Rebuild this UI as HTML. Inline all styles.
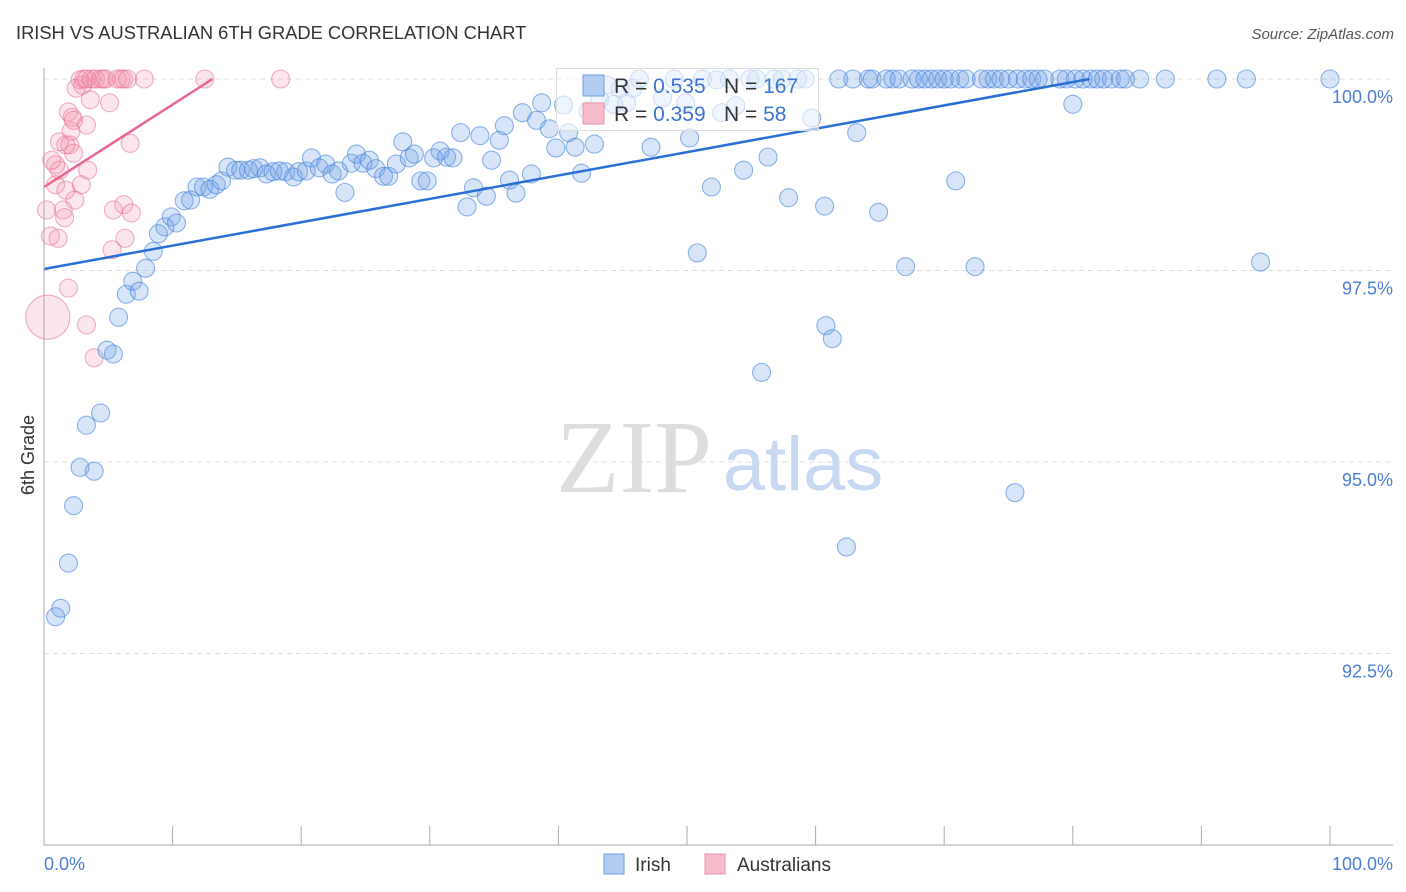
<!DOCTYPE html>
<html><head><meta charset="utf-8"><style>
body{margin:0;background:#fff;font-family:"Liberation Sans",sans-serif;}
svg{display:block}
</style></head><body>
<svg id="c" width="1406" height="892">
<text x="16" y="39" font-size="18.3" fill="#333">IRISH VS AUSTRALIAN 6TH GRADE CORRELATION CHART</text>
<text x="1394" y="39" font-size="15" fill="#555" font-style="italic" text-anchor="end">Source: ZipAtlas.com</text>
<g>
<text x="634" y="492" font-size="104" fill="#ddd" font-family="Liberation Serif,serif" text-anchor="middle">ZIP</text>
<text x="803" y="490" font-size="76" fill="#c7d8f0" text-anchor="middle">atlas</text>
</g>
<g id="grid"></g>
<g id="pts"></g>
<g id="lines"></g>
<line x1="44" y1="68" x2="44" y2="845" stroke="#aaa"/>
<line x1="44" y1="845" x2="1393" y2="845" stroke="#aaa"/>
<g id="xt"></g>
<text x="44" y="870" font-size="18" fill="#4a7fd6">0.0%</text>
<text x="1393" y="870" font-size="18" fill="#4a7fd6" text-anchor="end">100.0%</text>
<text transform="translate(34,455) rotate(-90)" font-size="18" fill="#333" text-anchor="middle">6th Grade</text>
<g>
<rect x="556.5" y="68.5" width="262" height="62" fill="#fff" fill-opacity="0.6" stroke="#ddd"/>
<rect x="583" y="75" width="21" height="21" fill="#b3cdf2" stroke="#6f9ee0"/>
<rect x="583" y="103" width="21" height="21" fill="#f6bccb" stroke="#eb93ad"/>
<text x="614" y="93" font-size="21" fill="#333">R = <tspan fill="#3b74d1">0.535</tspan></text>
<text x="724" y="93" font-size="21" fill="#333">N = <tspan fill="#3b74d1">167</tspan></text>
<text x="614" y="121" font-size="21" fill="#333">R = <tspan fill="#3b74d1">0.359</tspan></text>
<text x="724" y="121" font-size="21" fill="#333">N = <tspan fill="#3b74d1"> 58</tspan></text>
</g>
<g>
<rect x="604" y="854" width="20" height="20" fill="#b3cdf2" stroke="#6f9ee0"/>
<text x="635" y="871" font-size="19" fill="#333">Irish</text>
<rect x="705" y="854" width="20" height="20" fill="#f6bccb" stroke="#eb93ad"/>
<text x="737" y="871" font-size="19" fill="#333">Australians</text>
</g>
</svg>
<script>
const yTicks=[100,97.5,95,92.5];
const yTickLabels=["100.0%","97.5%","95.0%","92.5%"];
const xTicks=[0,10,20,30,40,50,60,70,80,90,100];
const irishX=[0.9,1.3,1.9,2.3,2.8,3.3,3.9,4.4,4.9,5.4,5.8,6.4,6.9,7.4,7.9,8.5,8.9,9.4,9.9,10.3,10.9,11.4,11.9,12.4,12.9,13.4,13.8,14.3,14.9,15.3,15.9,16.3,16.8,17.3,17.8,18.3,18.8,19.4,19.8,20.4,20.8,21.4,21.9,22.4,22.9,23.4,23.9,24.3,24.8,25.3,25.8,26.4,26.8,27.4,27.9,28.4,28.8,29.3,29.8,30.3,30.8,31.3,31.8,32.4,32.9,33.4,33.9,34.4,34.8,35.4,35.8,36.2,36.7,37.2,37.9,38.3,38.7,39.3,39.8,40.4,40.8,41.3,41.8,42.3,42.8,43.2,43.8,44.3,44.8,45.3,45.8,46.3,47.2,48.1,49.0,49.9,50.2,50.8,51.2,51.9,52.3,52.7,53.3,53.8,54.4,54.9,55.4,55.8,56.3,56.8,57.4,57.9,58.6,59.2,59.7,60.7,60.8,61.3,61.8,62.4,62.9,63.2,64.1,64.4,64.9,65.5,66.0,66.5,67.0,67.5,68.0,68.5,69.0,69.5,70.0,70.5,70.9,71.2,71.7,72.4,72.9,73.4,73.9,74.4,75.0,75.5,75.7,76.3,76.8,77.3,77.8,79.0,79.5,80.0,80.2,80.8,81.4,81.9,82.4,83.0,83.7,84.1,85.2,87.2,91.2,93.5,94.6,100];
const irishY=[92.98,93.09,93.68,94.43,94.93,95.48,94.88,95.64,96.46,96.41,96.89,97.19,97.36,97.23,97.53,97.75,97.98,98.07,98.2,98.12,98.41,98.42,98.59,98.59,98.56,98.62,98.67,98.85,98.81,98.81,98.81,98.83,98.84,98.76,98.79,98.8,98.79,98.72,98.79,98.8,98.97,98.84,98.89,98.76,98.8,98.52,98.9,99.02,98.9,98.94,98.83,98.73,98.73,98.89,99.18,98.97,99.02,98.67,98.67,98.97,99.06,98.98,98.97,99.3,98.33,98.58,99.26,98.47,98.94,99.2,99.39,98.68,98.51,99.56,98.76,99.46,99.69,99.35,99.1,99.66,99.3,99.11,98.77,99.58,99.15,99.73,99.92,99.67,99.88,99.69,99.88,100,99.11,99.75,100,99.69,99.23,97.73,100,98.59,99.99,99.56,100,99.65,98.81,100,100,96.17,98.98,100,100,98.45,100,100,99.49,98.34,96.78,96.61,100,93.89,100,99.3,100,100,98.26,100,100,100,97.55,100,100,100,100,100,100,100,98.67,100,100,97.55,100,100,100,100,100,94.6,100,100,100,100,100,100,100,99.67,100,100,100,100,100,100,100,100,100,100,100,100,97.61,100];
const ausX=[0.3,0.5,0.2,0.9,0.9,1.1,1.2,1.5,1.6,1.7,1.9,2.0,1.9,2.1,2.3,2.4,2.2,2.5,2.8,3.0,3.1,3.3,3.3,3.6,3.3,3.4,3.9,3.7,4.0,4.4,4.6,4.8,5.1,5.3,5.4,5.7,6.0,6.2,6.2,6.3,6.5,6.7,6.8,7.8,12.5,18.4,2.9,1.2,0.6,1.7,2.3];
const ausY=[96.89,97.95,98.29,98.88,98.62,97.92,99.18,98.29,98.19,98.55,97.27,99.14,99.57,99.32,99.03,98.42,99.5,99.88,99.99,99.92,100,100,96.79,99.73,99.4,98.81,96.36,100,100,100,100,100,99.69,97.77,98.29,100,100,98.36,100,97.92,100,99.16,98.25,100,100,100,98.62,98.81,98.94,99.14,99.46];
const irishTrend=[[0,97.52],[81.3,100]];
const ausTrend=[[0,98.59],[13.1,100]];
const NS="http://www.w3.org/2000/svg";
const X=v=>44+v*12.86, Y=v=>79+(100-v)*76.6;
function mk(t,a,p){const e=document.createElementNS(NS,t);for(const k in a)e.setAttribute(k,a[k]);p.appendChild(e);return e;}
const grid=document.getElementById('grid');
yTicks.forEach((t,i)=>{
 const l=mk('line',{x1:44,x2:1393,y1:Y(t),y2:Y(t),stroke:'#ddd','stroke-dasharray':'5,4'},grid);
 
 
 const tx=mk('text',{x:1393,y:Y(t)+24,'font-size':18,fill:'#4a7fd6','text-anchor':'end'},grid);
 tx.textContent=yTickLabels[i];
 
 
});
const xt=document.getElementById('xt');
xTicks.forEach(t=>{
 const l=mk('line',{x1:X(t),x2:X(t),y1:826,y2:845,stroke:'#aaa'},xt);
 
 
});
const pts=document.getElementById('pts');
ausX.forEach((x,i)=>{
 const c=mk('circle',{cx:X(x),cy:Y(ausY[i]),r:i===0?22:9,fill:'rgba(240,140,170,0.22)',stroke:'rgba(230,110,150,0.55)','stroke-width':1.1},pts);
 
 
});
irishX.forEach((x,i)=>{
 const c=mk('circle',{cx:X(x),cy:Y(irishY[i]),r:9,fill:'rgba(110,160,230,0.27)',stroke:'rgba(70,130,220,0.6)','stroke-width':1.1},pts);
 
 
});
const lines=document.getElementById('lines');
const l1=mk('line',{x1:X(irishTrend[0][0]),y1:Y(irishTrend[0][1]),x2:X(irishTrend[1][0]),y2:Y(irishTrend[1][1]),stroke:'#2a6fd6','stroke-width':2.5},lines);


const l2=mk('line',{x1:X(ausTrend[0][0]),y1:Y(ausTrend[0][1]),x2:X(ausTrend[1][0]),y2:Y(ausTrend[1][1]),stroke:'#e8668e','stroke-width':2.5},lines);


</script>
</body></html>
